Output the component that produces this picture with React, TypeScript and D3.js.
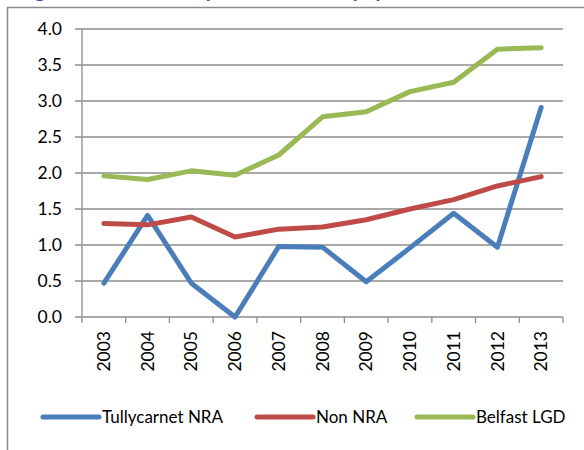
import React from "react";
import * as d3 from "d3";

const years = ["2003", "2004", "2005", "2006", "2007", "2008", "2009", "2010", "2011", "2012", "2013"];
const tullycarnet = [0.47, 1.41, 0.47, 0.0, 0.98, 0.97, 0.49, 0.96, 1.44, 0.97, 2.91];
const nonNRA = [1.3, 1.28, 1.39, 1.11, 1.22, 1.25, 1.35, 1.5, 1.63, 1.82, 1.95];
const belfast = [1.96, 1.91, 2.03, 1.97, 2.25, 2.78, 2.85, 3.13, 3.26, 3.72, 3.74];
const yTicks = [0, 0.5, 1, 1.5, 2, 2.5, 3, 3.5, 4];

const series = [
  { name: "Tullycarnet NRA", values: tullycarnet, color: "#4a7ebb" },
  { name: "Non NRA", values: nonNRA, color: "#be4b48" },
  { name: "Belfast LGD", values: belfast, color: "#98b954" },
];

const FONT = "Lato, 'Liberation Sans', sans-serif";

export default function App() {
  const W = 584, H = 450;
  const left = 82, right = 563, top = 29, bottom = 317;
  const x = d3.scaleBand<string>().domain(years).range([left, right]);
  const y = d3.scaleLinear().domain([0, 4]).range([bottom, top]);
  const line = d3
    .line<number>()
    .x((_, i) => (x(years[i]) as number) + x.bandwidth() / 2)
    .y((v) => y(v));
  const grid = "#8c8c8c";
  const legendX = [43, 257, 417];
  const legendY = 417;
  return (
    <svg width={W} height={H} style={{ position: "absolute", left: 0, top: 0 }} fontFamily={FONT}>
      <rect width={W} height={H} fill="#fff" />
      <text x={18} y={-3} fill="#7030a0" fontSize={20} fontWeight="bold">
        Figure 4: Tenure rate per 1,000 of the population
      </text>
      <path d={`M7.5,${H + 2} V7.5 H${W + 2}`} fill="none" stroke="#898989" strokeWidth={1.5} />
      {yTicks.map((t) => (
        <g key={t}>
          <line x1={left - 7} x2={right} y1={y(t)} y2={y(t)} stroke={grid} strokeWidth={1.3} />
          <text x={left - 20} y={y(t)} dy="0.35em" textAnchor="end" fontSize={17.5} fill="#000">
            {d3.format(".1f")(t)}
          </text>
        </g>
      ))}
      <line x1={left} x2={left} y1={top} y2={bottom + 6} stroke={grid} strokeWidth={1.3} />
      {years.map((yr, i) => (
        <line key={yr} x1={left + x.step() * (i + 1)} x2={left + x.step() * (i + 1)} y1={bottom} y2={bottom + 6} stroke={grid} strokeWidth={1.3} />
      ))}
      {years.map((yr) => {
        const cx = (x(yr) as number) + x.bandwidth() / 2;
        return (
          <text key={yr} transform={`translate(${cx},${331}) rotate(-90)`} textAnchor="end" dy="0.35em" fontSize={17.5} fill="#000">
            {yr}
          </text>
        );
      })}
      {series.map((s) => (
        <path key={s.name} d={line(s.values) || ""} fill="none" stroke={s.color} strokeWidth={5} strokeLinejoin="round" strokeLinecap="round" />
      ))}
      {series.map((s, i) => (
        <g key={s.name}>
          <line x1={legendX[i]} x2={legendX[i] + 56} y1={legendY} y2={legendY} stroke={s.color} strokeWidth={5} strokeLinecap="round" />
          <text x={legendX[i] + 59} y={legendY} dy="0.35em" fontSize={17} fill="#000">
            {s.name}
          </text>
        </g>
      ))}
    </svg>
  );
}
